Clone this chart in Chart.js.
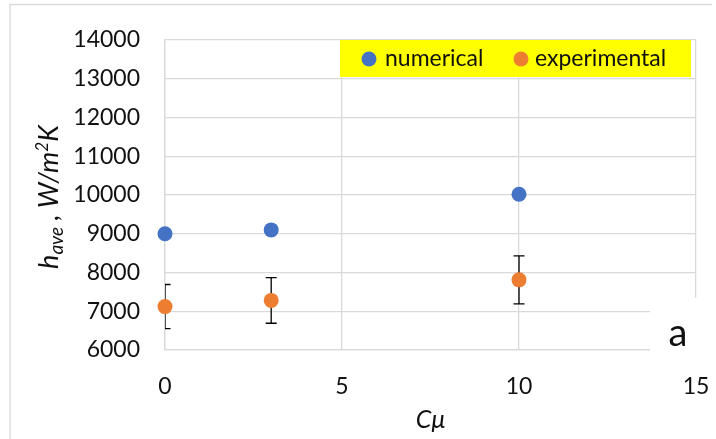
<!DOCTYPE html>
<html><head><meta charset="utf-8">
<script src="https://cdn.jsdelivr.net/npm/chart.js@4"></script>
<style>html,body{margin:0;padding:0;background:#fff;overflow:hidden}canvas{display:block}</style>
</head><body>
<canvas id="c" width="716" height="439"></canvas>
<script>
// ---- data ----
const cmuValues = [0, 3, 10];
const numericalValues = [9000, 9100, 10020];
const experimentalValues = [7120, 7280, 7810];
const experimentalError = [570, 590, 620];
const xTicks = [0, 5, 10, 15];
const yTicks = [6000, 7000, 8000, 9000, 10000, 11000, 12000, 13000, 14000];
const seriesLabels = ['numerical', 'experimental'];
const xTitle = 'Cμ';
const yTitleParts = ['h', 'ave', ' , ', 'W/m', '2', 'K'];
const panelLabel = 'a';

const FONT = 'Lato, "Open Sans", sans-serif';
const BLUE = '#4472C4', ORANGE = '#ED7D31', GRID = '#d9d9d9', TXT = '#111';

const errorBarPlugin = {
  id: 'errorBars',
  beforeDatasetsDraw(chart) {
    const {ctx, chartArea: a, scales: {x, y}} = chart;
    ctx.save();
    ctx.beginPath();
    ctx.rect(a.left, a.top, a.right - a.left, a.bottom - a.top);
    ctx.clip();
    ctx.strokeStyle = '#000';
    ctx.lineWidth = 1.3;
    cmuValues.forEach((c, i) => {
      const px = x.getPixelForValue(c);
      const yt = y.getPixelForValue(experimentalValues[i] + experimentalError[i]);
      const yb = y.getPixelForValue(experimentalValues[i] - experimentalError[i]);
      const w = 5.5;
      ctx.beginPath();
      ctx.moveTo(px, yt); ctx.lineTo(px, yb);
      ctx.moveTo(px - w, yt); ctx.lineTo(px + w, yt);
      ctx.moveTo(px - w, yb); ctx.lineTo(px + w, yb);
      ctx.stroke();
    });
    ctx.restore();
  }
};

const decorPlugin = {
  id: 'decor',
  beforeDraw(chart) {
    const ctx = chart.ctx;
    ctx.save();
    ctx.fillStyle = '#fff';
    ctx.fillRect(0, 0, chart.width, chart.height);
    ctx.strokeStyle = GRID;
    ctx.lineWidth = 1.3;
    ctx.beginPath();
    ctx.moveTo(10, 439); ctx.lineTo(10, 4.5); ctx.lineTo(712, 4.5);
    ctx.stroke();
    ctx.restore();
  },
  afterDraw(chart) {
    const {ctx, chartArea: a} = chart;
    ctx.save();
    // panel label box
    ctx.fillStyle = '#fff';
    ctx.fillRect(650, 298, 66, 66);
    ctx.fillStyle = TXT;
    ctx.font = '38px ' + FONT;
    ctx.textAlign = 'center';
    ctx.textBaseline = 'alphabetic';
    ctx.fillText(panelLabel, 678, 346);

    // legend
    ctx.fillStyle = '#ffff00';
    ctx.fillRect(340, 40, 351, 37);
    ctx.font = '23px ' + FONT;
    ctx.textAlign = 'left';
    ctx.textBaseline = 'middle';
    const items = [
      {cx: 369, tx: 385, label: chart.data.datasets[0].label, color: chart.data.datasets[0].backgroundColor},
      {cx: 521, tx: 535, label: chart.data.datasets[1].label, color: chart.data.datasets[1].backgroundColor}
    ];
    items.forEach(it => {
      ctx.fillStyle = it.color;
      ctx.beginPath(); ctx.arc(it.cx, 59, 7.5, 0, Math.PI * 2); ctx.fill();
      ctx.fillStyle = TXT;
      ctx.fillText(it.label, it.tx, 59);
    });

    // y axis title (rotated, with sub/superscript)
    const main = 27, sub = 19, sup = 17;
    const parts = [
      {t: yTitleParts[0], s: main, dy: 0},
      {t: yTitleParts[1], s: sub, dy: 5},
      {t: yTitleParts[2], s: main, dy: 0},
      {t: yTitleParts[3], s: main, dy: 0},
      {t: yTitleParts[4], s: sup, dy: -10},
      {t: yTitleParts[5], s: main, dy: 0}
    ];
    let total = 0;
    parts.forEach(p => { ctx.font = 'italic ' + p.s + 'px ' + FONT; p.w = ctx.measureText(p.t).width; total += p.w; });
    ctx.translate(58, (a.top + a.bottom) / 2 + 2);
    ctx.rotate(-Math.PI / 2);
    ctx.textBaseline = 'alphabetic';
    ctx.fillStyle = TXT;
    let xx = -total / 2;
    parts.forEach(p => {
      ctx.font = 'italic ' + p.s + 'px ' + FONT;
      ctx.fillText(p.t, xx, p.dy);
      xx += p.w;
    });
    ctx.restore();
  }
};

new Chart(document.getElementById('c'), {
  type: 'scatter',
  data: {
    datasets: [
      {
        label: seriesLabels[0],
        data: cmuValues.map((c, i) => ({x: c, y: numericalValues[i]})),
        backgroundColor: BLUE, borderColor: BLUE, borderWidth: 0,
        pointRadius: 7.5, pointHoverRadius: 7.5, clip: false
      },
      {
        label: seriesLabels[1],
        data: cmuValues.map((c, i) => ({x: c, y: experimentalValues[i]})),
        backgroundColor: ORANGE, borderColor: ORANGE, borderWidth: 0,
        pointRadius: 7.5, pointHoverRadius: 7.5, clip: false
      }
    ]
  },
  options: {
    responsive: false,
    animation: false,
    events: [],
    layout: {padding: {left: 0, right: 20, top: 40, bottom: 0}},
    plugins: {legend: {display: false}, tooltip: {enabled: false}},
    scales: {
      x: {
        type: 'linear', min: 0, max: 15,
        afterBuildTicks: s => { s.ticks = xTicks.map(v => ({value: v})); },
        afterFit: s => { s.height = 89; s.paddingLeft = 0; s.paddingRight = 0; },
        grid: {color: GRID, lineWidth: 1.3, drawTicks: false},
        border: {color: GRID, width: 1.3},
        ticks: {padding: 23, color: TXT, font: {family: FONT, size: 23}, callback: v => String(v)},
        title: {display: true, text: xTitle, color: TXT, font: {family: FONT, size: 25, style: 'italic'}, padding: {top: 0, bottom: 4}}
      },
      y: {
        type: 'linear', min: 6000, max: 14000,
        afterBuildTicks: s => { s.ticks = yTicks.map(v => ({value: v})); },
        afterFit: s => { s.width = 165; },
        grid: {color: GRID, lineWidth: 1.3, drawTicks: false},
        border: {color: GRID, width: 1.3},
        ticks: {padding: 25, color: TXT, font: {family: FONT, size: 23}, callback: v => String(v)}
      }
    }
  },
  plugins: [decorPlugin, errorBarPlugin]
});
</script>
</body></html>
